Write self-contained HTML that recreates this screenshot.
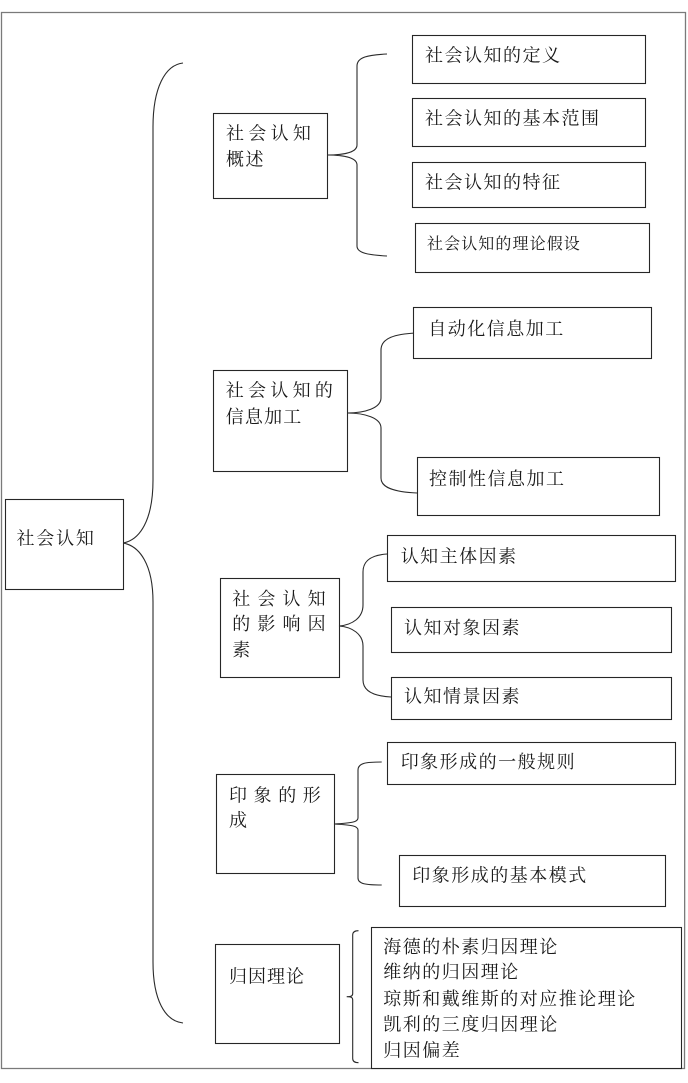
<!DOCTYPE html>
<html>
<head>
<meta charset="utf-8">
<style>
  html, body { margin: 0; padding: 0; background: #ffffff; }
  body { width: 688px; height: 1083px; overflow: hidden; }
  svg { display: block; }
  text { font-family: "Liberation Serif", "Noto Serif CJK SC", serif; font-size: 18px; fill: #1a1a1a; }
  .t { letter-spacing: 1.5px; }
  .s { font-size: 16px; letter-spacing: 1.1px; }
  .box { fill: #ffffff; stroke: #262626; stroke-width: 1.1; }
  .br { fill: none; stroke: #2a2a2a; stroke-width: 1.1; }
</style>
</head>
<body>
<svg width="688" height="1083" viewBox="0 0 688 1083" xmlns="http://www.w3.org/2000/svg">
  <!-- outer frame -->
  <path d="M1.5,12.5 L685.5,12.5 L684.5,1068.5 L1.5,1068.5 Z" fill="none" stroke="#7a7a7a" stroke-width="1.3"/>

  <!-- main brace -->
  <path class="br" d="M183,63 C165,65 153,88 153,127 L153,480 C153,520 140,540 123,543 C140,546 153,565 153,602 L153,962 C153,1000 165,1021 183,1023"/>

  <!-- main box -->
  <rect class="box" x="5.5" y="499.5" width="118" height="90"/>
  <text x="16.5 36.3 56.1 75.9" y="544.5">社会认知</text>

  <!-- Group 1 -->
  <rect class="box" x="213.5" y="113.5" width="114" height="85"/>
  <text x="226 248.3 270.6 292.9" y="139.5">社会认知</text>
  <text x="226 245.5" y="165.5">概述</text>
  <path class="br" d="M387,54 C368,55 357,57 357,66 L357,145 C357,152 345,155 327,155 C345,155 357,158 357,165 L357,246 C357,253 368,255 387,256"/>
  <rect class="box" x="412.5" y="35.5" width="233" height="48"/>
  <text class="t" x="425" y="61.5">社会认知的定义</text>
  <rect class="box" x="412.5" y="98.5" width="233" height="48"/>
  <text class="t" x="425" y="124.5">社会认知的基本范围</text>
  <rect class="box" x="412.5" y="162.5" width="233" height="45"/>
  <text class="t" x="425" y="188.5">社会认知的特征</text>
  <rect class="box" x="415.5" y="223.5" width="234" height="49"/>
  <text class="s" x="427" y="249">社会认知的理论假设</text>

  <!-- Group 2 -->
  <rect class="box" x="213.5" y="370.5" width="134" height="101"/>
  <text x="225.7 248 270.3 292.6 314.9" y="396.5">社会认知的</text>
  <text x="225.7 244.9 264.1 283.3" y="423">信息加工</text>
  <path class="br" d="M416,333 C395,334 381,338 381,350 L381,398 C381,408 365,413 347,413 C365,413 381,418 381,428 L381,478 C381,488 395,492 417,493"/>
  <rect class="box" x="413.5" y="307.5" width="238" height="51"/>
  <text class="t" x="428.3" y="334.8">自动化信息加工</text>
  <rect class="box" x="417.5" y="457.5" width="242" height="58"/>
  <text class="t" x="429" y="484.8">控制性信息加工</text>

  <!-- Group 3 -->
  <rect class="box" x="220.5" y="578.5" width="119" height="99"/>
  <text x="232.3 257.4 282.5 307.6" y="604.8">社会认知</text>
  <text x="232.3 257.4 282.5 307.6" y="629.8">的影响因</text>
  <text x="232.3" y="655.8">素</text>
  <path class="br" d="M387,554 C372,555 363,560 363,572 L363,605 C363,618 352,625 339,626 C352,627 363,634 363,646 L363,680 C363,690 372,696 391,697"/>
  <rect class="box" x="387.5" y="535.5" width="288" height="46"/>
  <text class="t" x="400.7" y="562.5">认知主体因素</text>
  <rect class="box" x="391.5" y="607.5" width="280" height="45"/>
  <text class="t" x="404" y="633.8">认知对象因素</text>
  <rect class="box" x="391.5" y="677.5" width="280" height="42"/>
  <text class="t" x="404" y="702.5">认知情景因素</text>

  <!-- Group 4 -->
  <rect class="box" x="216.5" y="774.5" width="118" height="99"/>
  <text x="229 253.6 278.2 302.8" y="801.5">印象的形</text>
  <text x="229" y="826.5">成</text>
  <path class="br" d="M381.7,762 C366,762 358,763 358,770 L358,818 C358,822 352,823 334,824 C352,825 358,826 358,830 L358,878 C358,884 366,885 381.7,885"/>
  <rect class="box" x="387.5" y="742.5" width="288" height="42"/>
  <text class="t" x="400.7" y="768.2">印象形成的一般规则</text>
  <rect class="box" x="399.5" y="855.5" width="266" height="51"/>
  <text class="t" x="412.3" y="881.5">印象形成的基本模式</text>

  <!-- Group 5 -->
  <rect class="box" x="215.5" y="944.5" width="124" height="99"/>
  <text x="229 248 267 286" y="982.5">归因理论</text>
  <path class="br" d="M358.5,930.7 C354.5,930.7 352.7,932 352.7,935 L352.7,993.5 C352.7,995.8 351.5,996.7 346.7,996.7 C351.5,996.7 352.7,997.6 352.7,1000 L352.7,1058.5 C352.7,1061.5 354.5,1062.7 358.5,1062.7"/>
  <rect class="box" x="371.5" y="927.5" width="310" height="141"/>
  <text class="t" x="383.3" y="953.2">海德的朴素归因理论</text>
  <text class="t" x="383.3" y="978.2">维纳的归因理论</text>
  <text class="t" x="383.3" y="1004.8">琼斯和戴维斯的对应推论理论</text>
  <text class="t" x="383.3" y="1030.5">凯利的三度归因理论</text>
  <text class="t" x="383.3" y="1056.5">归因偏差</text>
</svg>
</body>
</html>
